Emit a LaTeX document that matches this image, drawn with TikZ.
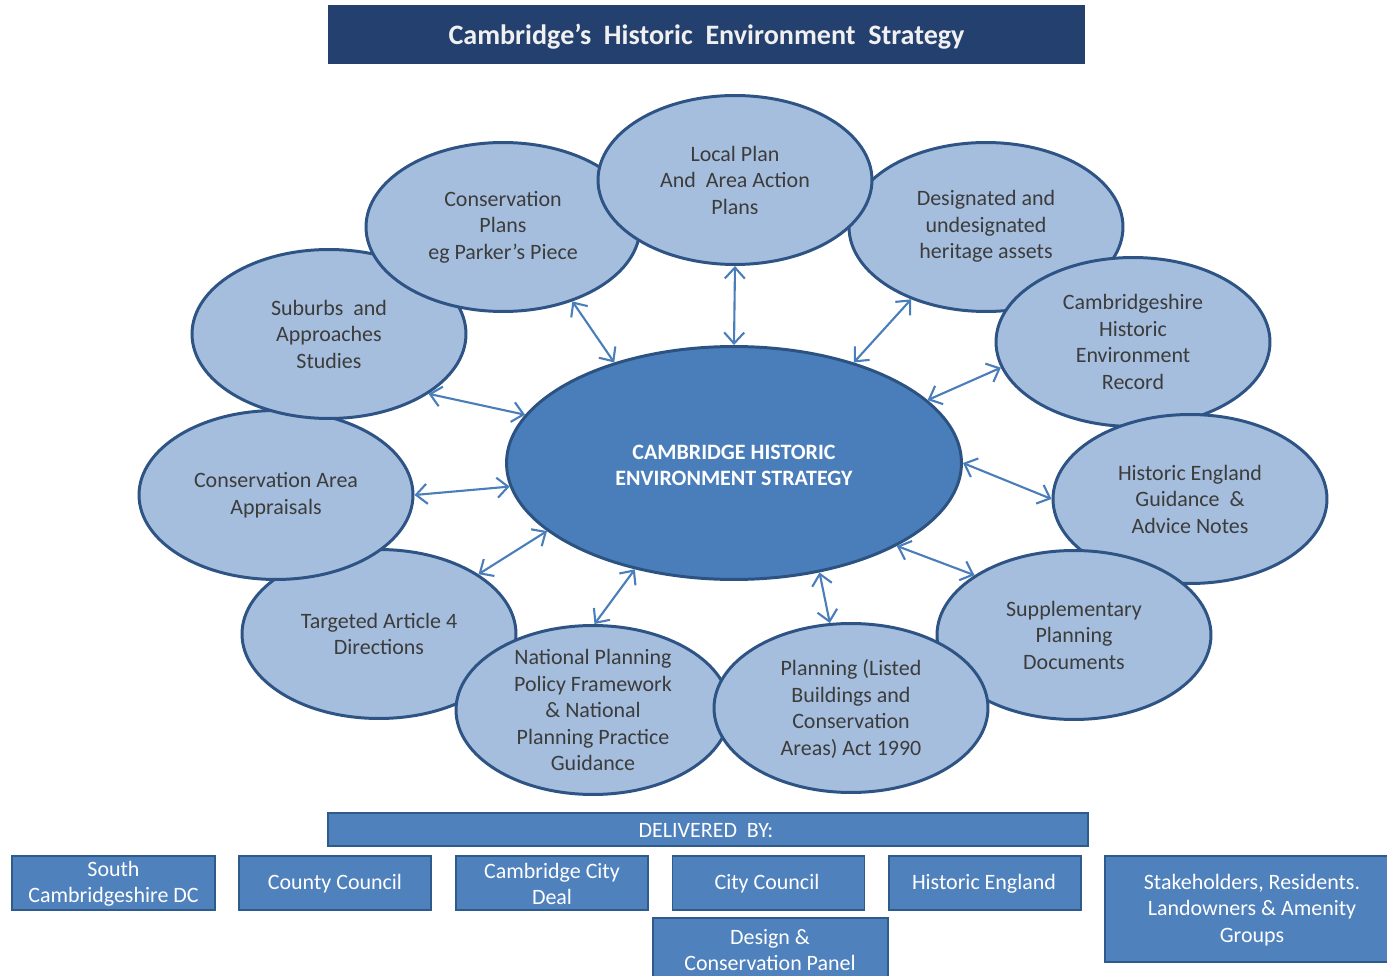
\documentclass[tikz,border=0pt]{standalone}
\usepackage{fontspec}
\setmainfont{Carlito}
\usetikzlibrary{shapes.geometric,arrows.meta}
\definecolor{titlebg}{HTML}{23406F}
\definecolor{cfill}{HTML}{4A7EBB}
\definecolor{cborder}{HTML}{2C5282}
\definecolor{ofill}{HTML}{A5BEDD}
\definecolor{oborder}{HTML}{2E5385}
\definecolor{otext}{HTML}{3C3C3C}
\definecolor{arrowc}{HTML}{4A7EBB}
\definecolor{boxfill}{HTML}{4F81BD}
\definecolor{boxborder}{HTML}{2F5A8C}
\begin{document}
\begin{tikzpicture}[x=0.02cm,y=-0.02cm,
 outer/.style={ellipse, draw=oborder, line width=1.7pt, fill=ofill, minimum width=5.48cm, minimum height=3.38cm, inner sep=0pt},
 otxt/.style={align=center, text=otext, font=\fontsize{12.5}{15.1}\selectfont, inner sep=0pt},
 conn/.style={draw=arrowc, line width=1.2pt, {Straight Barb[length=2.2mm,width=4mm]}-{Straight Barb[length=2.2mm,width=4mm]}},
 dbox/.style={draw=boxborder, line width=1.1pt, fill=boxfill, minimum width=3.84cm, minimum height=1.08cm, inner sep=0pt},
 btxt/.style={text=white, align=center, font=\fontsize{12.5}{15}\selectfont, inner sep=0pt}
]
\useasboundingbox (0,0) rectangle (1387,976);

% title
\node[fill=titlebg, minimum width=15.14cm, minimum height=1.18cm, inner sep=0pt] (title) at (706.5,34.5) {};
\node[text=white!94!black, font=\bfseries\fontsize{16}{19}\selectfont, inner sep=0pt] (titlet) at (706.5,37) {Cambridge’s\ \ Historic\ \ Environment\ \ Strategy};

% outer ellipses (drawing order sets overlaps)
\node[outer] (ta) at (379,634) {};
\node[outer] (np) at (593,710) {};
\node[outer] (de) at (986,227) {};
\node[outer] (ch) at (1133,342) {};
\node[outer] (he) at (1190,499) {};
\node[outer] (sp) at (1074,635) {};
\node[outer] (pl) at (851,708) {};
\node[outer] (ca) at (276,495) {};
\node[outer] (su) at (329,334) {};
\node[outer] (cp) at (503,227) {};
\node[outer] (lp) at (735,180) {};

% centre
\node[ellipse, draw=cborder, line width=1.7pt, fill=cfill, minimum width=9.1cm, minimum height=4.66cm, inner sep=0pt] (c) at (734,463) {};
\node[align=center, text=white, font=\bfseries\fontsize{12.5}{14.8}\selectfont, inner sep=0pt] (ct) at (734,465) {CAMBRIDGE HISTORIC\\ENVIRONMENT STRATEGY};

% outer texts
\node[otxt] (lpt) at (lp) {Local Plan\\And\ \ Area Action\\Plans};
\node[otxt] (cpt) at (cp) {Conservation\\Plans\\eg Parker’s Piece};
\node[otxt] (det) at (986,226.5) {Designated and\\undesignated\\heritage assets};
\node[otxt] (sut) at (su) {Suburbs\ \ and\\Approaches\\Studies};
\node[otxt] (cht) at (ch) {Cambridgeshire\\Historic\\Environment\\Record};
\node[otxt] (cat) at (ca) {Conservation Area\\Appraisals};
\node[otxt] (het) at (he) {Historic England\\Guidance\ \ \&\\Advice Notes};
\node[otxt] (tat) at (ta) {Targeted Article 4\\Directions};
\node[otxt] (spt) at (sp) {Supplementary\\Planning\\Documents};
\node[otxt] (npt) at (np) {National Planning\\Policy Framework\\\&\ National\\Planning Practice\\Guidance};
\node[otxt] (plt) at (851,709) {Planning (Listed\\Buildings and\\Conservation\\Areas) Act 1990};

% connectors
\draw[conn] (lp.-90) -- (c.90);
\draw[conn] (cp.-47.5) -- (c.140.4);
\draw[conn] (de.-136.2) -- (c.40.6);
\draw[conn] (su.-31.6) -- (c.167.6);
\draw[conn] (ch.-169.4) -- (c.18.6);
\draw[conn] (ca.0.8) -- (c.186.6);
\draw[conn] (he.180) -- (c.-0.8);
\draw[conn] (ta.31.2) -- (c.200.5);
\draw[conn] (sp.149.3) -- (c.-27.3);
\draw[conn] (np.89) -- (c.-133.1);
\draw[conn] (pl.104) -- (c.-52.9);

% delivered by
\node[dbox, minimum width=15.2cm, minimum height=0.66cm] (del) at (708,829.5) {};
\node[btxt] (delt) at (706,830.5) {DELIVERED\ \ BY:};
\node[dbox, minimum width=4.06cm] (scdc) at (113.5,883) {};
\node[btxt] (scdct) at (113.5,884) {South\\Cambridgeshire DC};
\node[dbox] (cc) at (335,883) {};
\node[btxt] (cct) at (335,884) {County Council};
\node[dbox] (ccd) at (552,883) {};
\node[btxt] (ccdt) at (552,884) {Cambridge City\\Deal};
\node[dbox] (cyc) at (768.5,883) {};
\node[btxt] (cyct) at (767,884) {City Council};
\node[dbox] (hen) at (985,883) {};
\node[btxt] (hent) at (984,884) {Historic England};
\node[dbox, minimum width=5.9cm, minimum height=2.12cm] (stk) at (1252.5,909) {};
\node[btxt] (stkt) at (1252,910) {Stakeholders, Residents.\\Landowners \& Amenity\\Groups};
\node[dbox, minimum width=4.7cm, minimum height=1.28cm] (dcp) at (770.5,950) {};
\node[btxt] (dcpt) at (770,950) {Design \&\\Conservation Panel};
\end{tikzpicture}
\end{document}
